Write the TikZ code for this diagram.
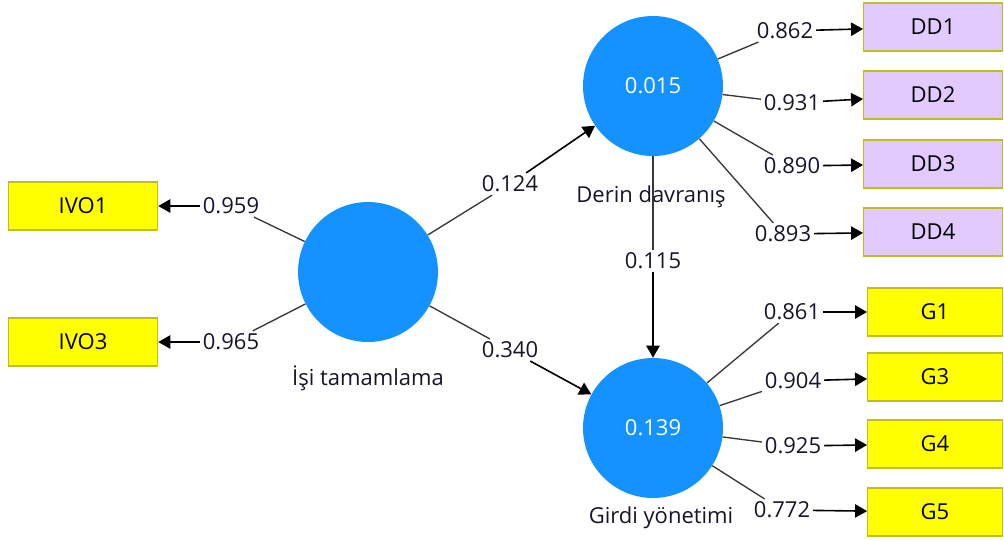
\documentclass[tikz,border=0pt]{standalone}
\usepackage{fontspec}
\setmainfont{Open Sans}
\usetikzlibrary{arrows.meta}
\definecolor{lvblue}{RGB}{20,146,255}
\definecolor{indyellow}{RGB}{255,255,0}
\definecolor{indlilac}{RGB}{226,202,255}
\definecolor{boxedge}{RGB}{190,190,30}
\definecolor{linegray}{RGB}{55,55,55}
\definecolor{numtext}{RGB}{25,20,40}
\tikzset{
  latent/.style={circle, fill=lvblue, draw=none, minimum size=105pt, inner sep=0pt,
    text=white, font=\fontsize{16.5}{19}\selectfont},
  indbox/.style={rectangle, draw=boxedge, line width=0.9pt, fill=indyellow,
    minimum height=36pt, inner sep=0pt, font=\fontsize{16.5}{19}\selectfont},
  ddbox/.style={indbox, fill=indlilac},
  coef/.style={inner sep=2pt, text=numtext, font=\fontsize{16.5}{19}\selectfont},
  lvname/.style={inner sep=0pt, text=numtext, font=\fontsize{16.5}{19}\selectfont},
  link/.style={draw=linegray, line width=1pt},
  arr/.style={draw=black, line width=1.2pt, -{Triangle[length=9pt,width=10pt]}}
}
\begin{document}
\begin{tikzpicture}[x=0.75pt,y=-0.75pt]
\useasboundingbox (0,0) rectangle (1004,540);

% latent variables
\node[latent] (isi) at (368,272) {};
\node[latent] (derin) at (653,86) {0.015};
\node[latent] (girdi) at (653,428) {0.139};
\node[lvname] at (368,378) {İşi tamamlama};
\node[lvname] at (651,197) {Derin davranış};
\node[lvname] at (661,518) {Girdi yönetimi};

% indicators
\node[indbox, minimum width=112pt] (ivo1) at (83,206) {IVO1};
\node[indbox, minimum width=112pt] (ivo3) at (83,342) {IVO3};
\node[ddbox, minimum width=104pt] (dd1) at (933,27) {DD1};
\node[ddbox, minimum width=104pt] (dd2) at (933,95) {DD2};
\node[ddbox, minimum width=104pt] (dd3) at (933,164) {DD3};
\node[ddbox, minimum width=104pt] (dd4) at (933,232) {DD4};
\node[indbox, minimum width=101pt] (g1) at (935,312) {G1};
\node[indbox, minimum width=101pt] (g3) at (935,377) {G3};
\node[indbox, minimum width=101pt] (g4) at (935,444) {G4};
\node[indbox, minimum width=101pt] (g5) at (935,512) {G5};

% outer loadings
\node[coef] (c959) at (231,206) {0.959};
\node[coef] (c965) at (231,342) {0.965};
\node[coef] (c862) at (785,31) {0.862};
\node[coef] (c931) at (792,103) {0.931};
\node[coef] (c890) at (792,166) {0.890};
\node[coef] (c893) at (783,234) {0.893};
\node[coef] (c861) at (792,312) {0.861};
\node[coef] (c904) at (793,381) {0.904};
\node[coef] (c925) at (793,446) {0.925};
\node[coef] (c772) at (782,510) {0.772};

% path coefficients
\node[coef] (c124) at (510,184) {0.124};
\node[coef] (c340) at (510,350) {0.340};
\node[coef] (c115) at (653,261) {0.115};

% reflective measurement: latent -> indicators
\draw[link] (isi) -- (c959);  \draw[arr] (c959) -- (ivo1);
\draw[link] (isi) -- (c965);  \draw[arr] (c965) -- (ivo3);
\draw[link] (derin) -- (c862); \draw[arr] (c862) -- (dd1);
\draw[link] (derin) -- (c931); \draw[arr] (c931) -- (dd2);
\draw[link] (derin) -- (c890); \draw[arr] (c890) -- (dd3);
\draw[link] (derin) -- (c893); \draw[arr] (c893) -- (dd4);
\draw[link] (girdi) -- (c861); \draw[arr] (c861) -- (g1);
\draw[link] (girdi) -- (c904); \draw[arr] (c904) -- (g3);
\draw[link] (girdi) -- (c925); \draw[arr] (c925) -- (g4);
\draw[link] (girdi) -- (c772); \draw[arr] (c772) -- (g5);

% structural model
\draw[link] (isi) -- (c124);   \draw[arr] (c124) -- (derin);
\draw[link] (isi) -- (c340);   \draw[arr] (c340) -- (girdi);
\draw[link] (derin) -- (c115); \draw[arr] (c115) -- (girdi);
\end{tikzpicture}
\end{document}
